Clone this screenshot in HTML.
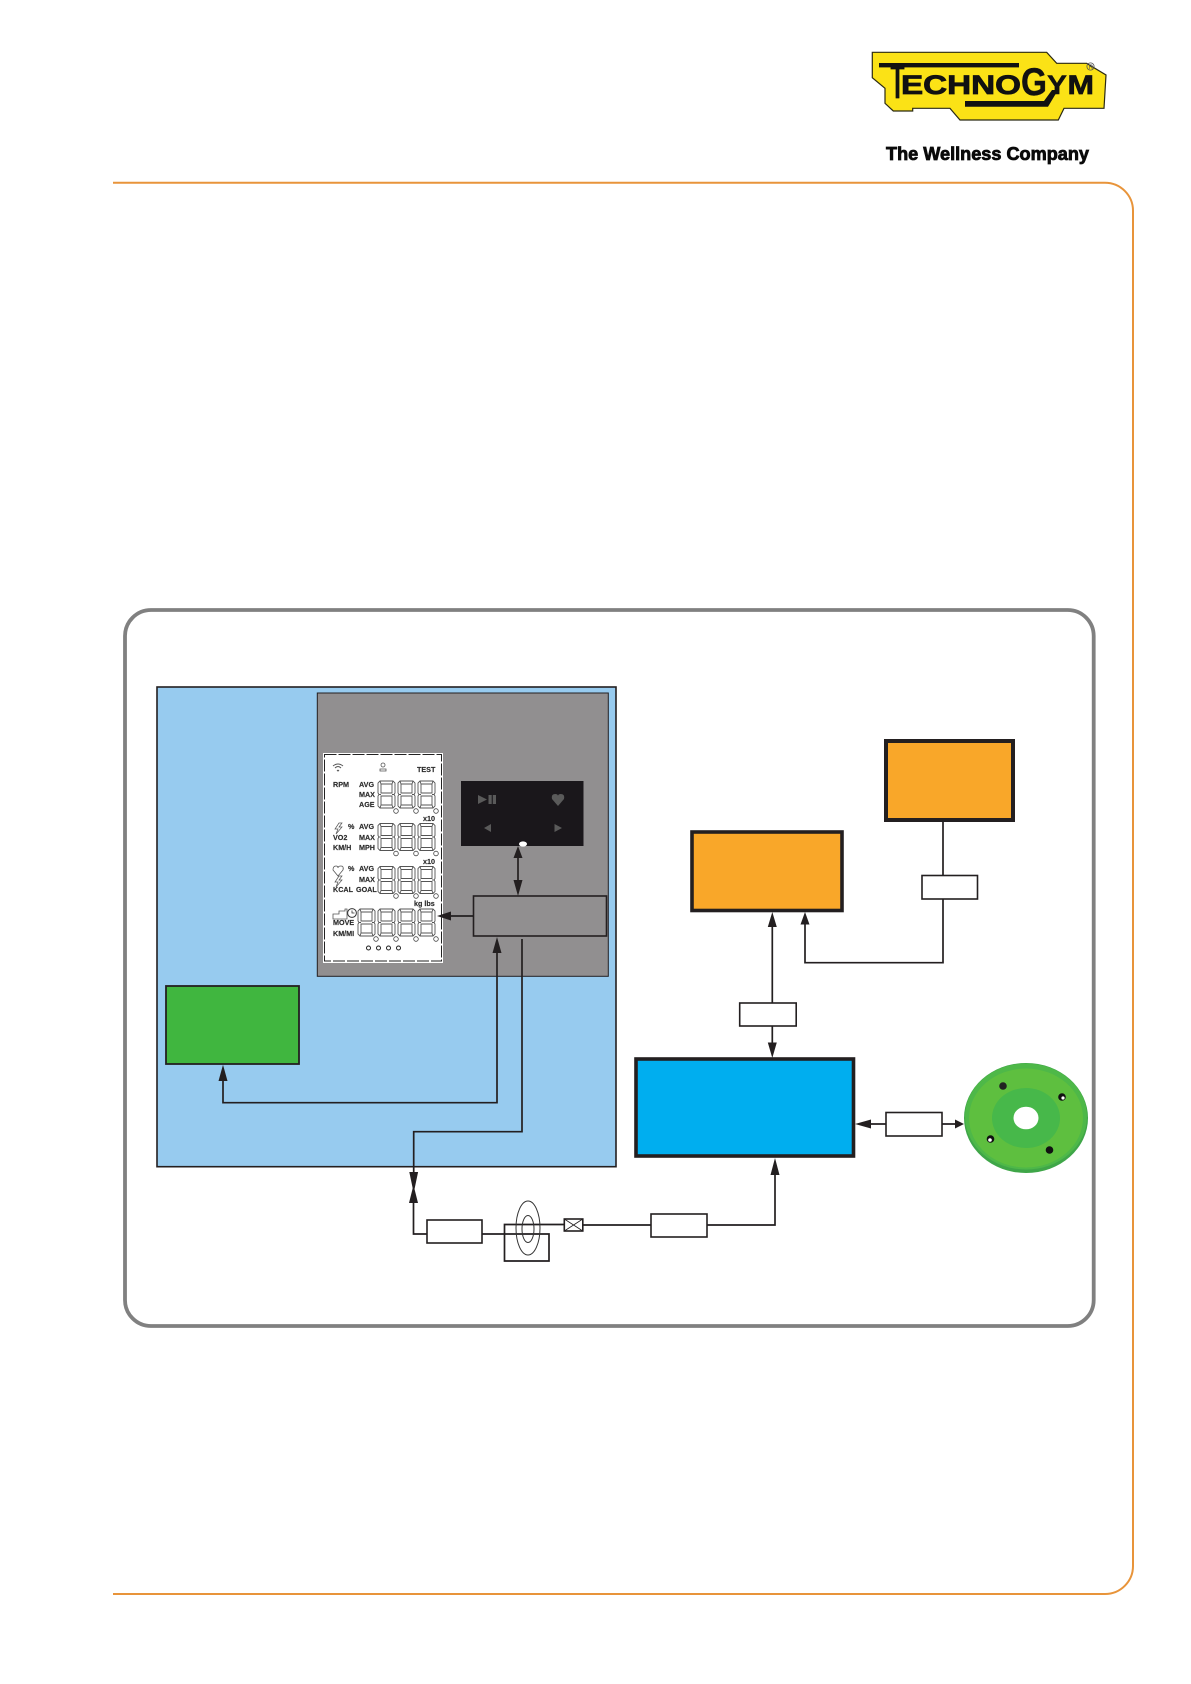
<!DOCTYPE html>
<html lang="en"><head><meta charset="utf-8"><title>Diagram</title>
<style>html,body{margin:0;padding:0;background:#fff;width:1191px;height:1684px;overflow:hidden}svg{display:block;position:absolute;left:0;top:0}
.l{font:bold 7.2px "Liberation Sans",sans-serif;fill:#2b2b2b;stroke:#2b2b2b;stroke-width:.15}
.d{fill:none;stroke:#555;stroke-width:.9}
.c{fill:#fff;stroke:#444;stroke-width:.8}
.k{stroke:#231f20;fill:none;stroke-width:1.7}
.a{fill:#231f20;stroke:none}
</style></head><body>
<svg width="1191" height="1684" viewBox="0 0 1191 1684" xmlns="http://www.w3.org/2000/svg">
<!-- logo -->
<polygon points="872.3,52.3 1046.7,52.3 1056.7,63.3 1086.7,63.3 1106,75 1104,108.3 1064,108.3 1058.3,120 960,120 950,108.3 912.7,108.3 912.7,111 893.3,111 885,103.3 885,88.3 872.3,77.7" fill="#fbe216" stroke="#2b2a14" stroke-width="1.2"/>
<rect x="879" y="63" width="140" height="4.4" fill="#111"/>
<text x="890.5" y="98" font-family="Liberation Sans" font-weight="bold" font-size="50" textLength="14" lengthAdjust="spacingAndGlyphs" fill="#111" stroke="#111" stroke-width=".8">T</text>
<text x="901" y="94" font-family="Liberation Sans" font-weight="bold" font-size="27" textLength="120" lengthAdjust="spacingAndGlyphs" fill="#111" stroke="#111" stroke-width=".8">ECHNO</text>
<text x="1021" y="95" font-family="Liberation Sans" font-weight="bold" font-size="39" textLength="26" lengthAdjust="spacingAndGlyphs" fill="#111" stroke="#111" stroke-width=".4">G</text>
<text x="1047" y="94" font-family="Liberation Sans" font-weight="bold" font-size="27" textLength="20" lengthAdjust="spacingAndGlyphs" fill="#111" stroke="#111" stroke-width=".4">Y</text>
<text x="1067.5" y="94" font-family="Liberation Sans" font-weight="bold" font-size="27" textLength="26.5" lengthAdjust="spacingAndGlyphs" fill="#111" stroke="#111" stroke-width=".7">M</text>
<polygon points="965,101 1044,101 1052,90 1058,90 1048,106.7 965,106.7" fill="#111"/>
<circle cx="1090.5" cy="66.5" r="3.6" fill="none" stroke="#555" stroke-width=".8"/>
<text x="1088.6" y="68.8" font-family="Liberation Sans" font-size="6" fill="#555">R</text>
<text x="886" y="160" font-family="Liberation Sans" font-weight="bold" font-size="18.5" textLength="203" lengthAdjust="spacingAndGlyphs" fill="#0a0a0a" stroke="#0a0a0a" stroke-width=".8">The Wellness Company</text>

<!-- orange page border -->
<path d="M113 182.7H1105A28 28 0 0 1 1133 210.7V1566A28 28 0 0 1 1105 1594H113" fill="none" stroke="#e8943a" stroke-width="2"/>
<!-- gray frame -->
<rect x="125" y="610" width="968.7" height="716" rx="26" fill="#fff" stroke="#808080" stroke-width="3.8"/>

<!-- light blue panel -->
<rect x="157" y="687" width="459" height="479.7" fill="#97cbef" stroke="#231f20" stroke-width="1.6"/>
<!-- gray panel -->
<rect x="317.3" y="693" width="291" height="283.3" fill="#918f90" stroke="#231f20" stroke-width="1"/>
<!-- LCD -->
<rect x="323" y="753" width="120" height="210" fill="#fff"/>
<rect x="324.5" y="754.5" width="117" height="206.5" fill="none" stroke="#222" stroke-width="1" stroke-dasharray="12 2"/>

<path class="d" transform="translate(378 781)" d="M2 0H15L17 2V12L16 13.5L17 15V25L15 27H2L0 25V15L1 13.5L0 12V2ZM3 3H14V12H3ZM3 15H14V24H3ZM2 0L3 3M15 0L14 3M1 13.5H3M16 13.5H14M2 27L3 24M15 27L14 24"/>
<path class="d" transform="translate(398 781)" d="M2 0H15L17 2V12L16 13.5L17 15V25L15 27H2L0 25V15L1 13.5L0 12V2ZM3 3H14V12H3ZM3 15H14V24H3ZM2 0L3 3M15 0L14 3M1 13.5H3M16 13.5H14M2 27L3 24M15 27L14 24"/>
<path class="d" transform="translate(418 781)" d="M2 0H15L17 2V12L16 13.5L17 15V25L15 27H2L0 25V15L1 13.5L0 12V2ZM3 3H14V12H3ZM3 15H14V24H3ZM2 0L3 3M15 0L14 3M1 13.5H3M16 13.5H14M2 27L3 24M15 27L14 24"/>
<path class="d" transform="translate(378 823.5)" d="M2 0H15L17 2V12L16 13.5L17 15V25L15 27H2L0 25V15L1 13.5L0 12V2ZM3 3H14V12H3ZM3 15H14V24H3ZM2 0L3 3M15 0L14 3M1 13.5H3M16 13.5H14M2 27L3 24M15 27L14 24"/>
<path class="d" transform="translate(398 823.5)" d="M2 0H15L17 2V12L16 13.5L17 15V25L15 27H2L0 25V15L1 13.5L0 12V2ZM3 3H14V12H3ZM3 15H14V24H3ZM2 0L3 3M15 0L14 3M1 13.5H3M16 13.5H14M2 27L3 24M15 27L14 24"/>
<path class="d" transform="translate(418 823.5)" d="M2 0H15L17 2V12L16 13.5L17 15V25L15 27H2L0 25V15L1 13.5L0 12V2ZM3 3H14V12H3ZM3 15H14V24H3ZM2 0L3 3M15 0L14 3M1 13.5H3M16 13.5H14M2 27L3 24M15 27L14 24"/>
<path class="d" transform="translate(378 866.5)" d="M2 0H15L17 2V12L16 13.5L17 15V25L15 27H2L0 25V15L1 13.5L0 12V2ZM3 3H14V12H3ZM3 15H14V24H3ZM2 0L3 3M15 0L14 3M1 13.5H3M16 13.5H14M2 27L3 24M15 27L14 24"/>
<path class="d" transform="translate(398 866.5)" d="M2 0H15L17 2V12L16 13.5L17 15V25L15 27H2L0 25V15L1 13.5L0 12V2ZM3 3H14V12H3ZM3 15H14V24H3ZM2 0L3 3M15 0L14 3M1 13.5H3M16 13.5H14M2 27L3 24M15 27L14 24"/>
<path class="d" transform="translate(418 866.5)" d="M2 0H15L17 2V12L16 13.5L17 15V25L15 27H2L0 25V15L1 13.5L0 12V2ZM3 3H14V12H3ZM3 15H14V24H3ZM2 0L3 3M15 0L14 3M1 13.5H3M16 13.5H14M2 27L3 24M15 27L14 24"/>
<path class="d" transform="translate(358 909)" d="M2 0H15L17 2V12L16 13.5L17 15V25L15 27H2L0 25V15L1 13.5L0 12V2ZM3 3H14V12H3ZM3 15H14V24H3ZM2 0L3 3M15 0L14 3M1 13.5H3M16 13.5H14M2 27L3 24M15 27L14 24"/>
<path class="d" transform="translate(378 909)" d="M2 0H15L17 2V12L16 13.5L17 15V25L15 27H2L0 25V15L1 13.5L0 12V2ZM3 3H14V12H3ZM3 15H14V24H3ZM2 0L3 3M15 0L14 3M1 13.5H3M16 13.5H14M2 27L3 24M15 27L14 24"/>
<path class="d" transform="translate(398 909)" d="M2 0H15L17 2V12L16 13.5L17 15V25L15 27H2L0 25V15L1 13.5L0 12V2ZM3 3H14V12H3ZM3 15H14V24H3ZM2 0L3 3M15 0L14 3M1 13.5H3M16 13.5H14M2 27L3 24M15 27L14 24"/>
<path class="d" transform="translate(418 909)" d="M2 0H15L17 2V12L16 13.5L17 15V25L15 27H2L0 25V15L1 13.5L0 12V2ZM3 3H14V12H3ZM3 15H14V24H3ZM2 0L3 3M15 0L14 3M1 13.5H3M16 13.5H14M2 27L3 24M15 27L14 24"/>

<g class="c">
<circle cx="396" cy="811" r="2.3"/><circle cx="416" cy="811" r="2.3"/><circle cx="436" cy="811" r="2.3"/>
<circle cx="396" cy="853.5" r="2.3"/><circle cx="416" cy="853.5" r="2.3"/><circle cx="436" cy="853.5" r="2.3"/>
<circle cx="396" cy="896" r="2.3"/><circle cx="416" cy="896" r="2.3"/><circle cx="436" cy="896" r="2.3"/>
<circle cx="376" cy="939" r="2.3"/><circle cx="396" cy="939" r="2.3"/><circle cx="416" cy="939" r="2.3"/><circle cx="436" cy="939" r="2.3"/>
</g>
<g fill="#fff" stroke="#222" stroke-width="1">
<circle cx="368.5" cy="948" r="2"/><circle cx="378.5" cy="948" r="2"/><circle cx="388.5" cy="948" r="2"/><circle cx="398.5" cy="948" r="2"/>
</g>

<text class="l" x="333" y="787">RPM</text>
<text class="l" x="359" y="787">AVG</text>
<text class="l" x="359" y="797">MAX</text>
<text class="l" x="359" y="807">AGE</text>
<text class="l" x="417" y="772">TEST</text>
<text class="l" x="423" y="821">x10</text>
<text class="l" x="348" y="829">%</text>
<text class="l" x="359" y="829">AVG</text>
<text class="l" x="333" y="840">VO2</text>
<text class="l" x="359" y="840">MAX</text>
<text class="l" x="333" y="850">KM/H</text>
<text class="l" x="359" y="850">MPH</text>
<text class="l" x="423" y="864">x10</text>
<text class="l" x="348" y="871">%</text>
<text class="l" x="359" y="871">AVG</text>
<text class="l" x="359" y="882">MAX</text>
<text class="l" x="333" y="892">KCAL</text>
<text class="l" x="356" y="892">GOAL</text>
<text class="l" x="414" y="906">kg lbs</text>
<text class="l" x="333" y="925">MOVE</text>
<text class="l" x="333" y="936">KM/MI</text>
<!-- LCD icons -->
<path d="M333 766Q338 762 343 766M335 768Q338 765 341 768M337 770L338 771L339 770" fill="none" stroke="#555" stroke-width="1"/>
<circle cx="383" cy="765" r="2" fill="none" stroke="#555" stroke-width=".8"/>
<path d="M380 771V769H386V771Z" fill="none" stroke="#555" stroke-width=".8"/>
<path d="M339 823L335 829H338L336 834L342 827H339L342 823Z" fill="none" stroke="#555" stroke-width=".7"/>
<path d="M338 876L333 870Q333 866 336 866Q338 866 338 868Q338 866 341 866Q344 866 343 870Z" fill="none" stroke="#555" stroke-width=".8"/>
<path d="M339 876L335 882H338L336 887L342 880H339L342 876Z" fill="none" stroke="#555" stroke-width=".7"/>
<path d="M333 919V914H339V911H345V909H347V919Z" fill="none" stroke="#555" stroke-width=".8"/>
<circle cx="352" cy="913" r="4.4" fill="#fff" stroke="#333" stroke-width="1"/>
<path d="M352 910.5V913H354.5" fill="none" stroke="#333" stroke-width=".8"/>

<!-- black panel -->
<rect x="461" y="781" width="122.5" height="65" fill="#1a171b"/>
<path d="M478 795L487 799.5L478 804Z" fill="#5a5a5a"/>
<rect x="488.5" y="795" width="3.2" height="9" fill="#5a5a5a"/><rect x="492.8" y="795" width="3.2" height="9" fill="#5a5a5a"/>
<path d="M558 806L552 799Q551 794 555 794Q558 794 558 796Q558 794 561 794Q565 794 564 799Z" fill="#5a5a5a"/>
<path d="M491 824V832L484 828Z" fill="#5a5a5a"/>
<path d="M554.5 824V832L562 828Z" fill="#5a5a5a"/>
<ellipse cx="523" cy="844" rx="4" ry="2.6" fill="#fff"/>

<!-- gray box -->
<rect x="473.5" y="896" width="133" height="40" fill="#918f90" stroke="#231f20" stroke-width="1.6"/>

<!-- green box -->
<rect x="166" y="986" width="133" height="78" fill="#40b63f" stroke="#231f20" stroke-width="1.8"/>
<!-- orange boxes -->
<rect x="886" y="741" width="127" height="79" fill="#f9a729" stroke="#231f20" stroke-width="4"/>
<rect x="692" y="832" width="150" height="78.5" fill="#f9a729" stroke="#231f20" stroke-width="3.6"/>
<!-- blue box -->
<rect x="636" y="1059" width="217.5" height="97" fill="#00aeef" stroke="#231f20" stroke-width="3.6"/>

<!-- connectors -->
<path class="k" d="M518 854V882"/>
<path class="a" d="M518 846L522.5 858H513.5ZM518 896L522.5 880H513.5Z"/>
<path class="k" d="M473 916H445"/>
<path class="a" d="M437 916L451 911.5V920.5Z"/>
<path class="k" d="M497 950V1102.7H223V1078"/>
<path class="a" d="M497 937L501.5 953H492.5ZM223 1064.7L227.5 1081H218.5Z"/>
<path class="k" d="M522 939V1131.7H413.7V1175"/>
<path class="a" d="M413.7 1193L409.3 1172H418.1Z"/>
<path class="a" d="M413.5 1185L418 1203H409Z"/>
<path class="k" d="M413.5 1200V1234H427"/>
<rect x="427" y="1220" width="55" height="23" fill="#fff" stroke="#231f20" stroke-width="1.6"/>
<path class="k" d="M482 1234H549V1261H504.5V1224.5H564"/>
<ellipse cx="528" cy="1228" rx="12" ry="27" fill="none" stroke="#333" stroke-width="1"/>
<ellipse cx="528" cy="1229" rx="6" ry="13.5" fill="none" stroke="#333" stroke-width="1"/>
<rect x="564.3" y="1219" width="18.5" height="12" fill="#fff" stroke="#231f20" stroke-width="1.6"/>
<path d="M564.3 1219L582.8 1231M582.8 1219L564.3 1231" stroke="#231f20" stroke-width=".8"/>
<path class="k" d="M583 1225H651"/>
<rect x="651" y="1214" width="56" height="23" fill="#fff" stroke="#231f20" stroke-width="1.6"/>
<path class="k" d="M707 1225H775V1172"/>
<path class="a" d="M775 1158L779.5 1175H770.5Z"/>
<path class="k" d="M772.3 925V1003M772.3 1026V1045"/>
<path class="a" d="M772.3 912L776.8 927H767.8ZM772.3 1058L776.8 1042.5H767.8Z"/>
<rect x="739.7" y="1003" width="56.5" height="23" fill="#fff" stroke="#231f20" stroke-width="1.6"/>
<path class="k" d="M943 822V875M943 899V962.7H805V922"/>
<path class="a" d="M805 912L809.5 924.5H800.5Z"/>
<rect x="922" y="875.5" width="55.5" height="23.5" fill="#fff" stroke="#231f20" stroke-width="1.6"/>
<path class="k" d="M868 1124H886M942 1124H956"/>
<path class="a" d="M855 1124L871 1119.5V1128.5ZM964 1124L955 1119.5V1128.5Z"/>
<rect x="886" y="1112.5" width="56" height="23.5" fill="#fff" stroke="#231f20" stroke-width="1.6"/>

<!-- disc -->
<ellipse cx="1026" cy="1118" rx="62" ry="55" fill="#3fa648"/>
<ellipse cx="1026" cy="1116.5" rx="61" ry="53" fill="#4eb848"/>
<ellipse cx="1026" cy="1118" rx="57" ry="49.5" fill="#5ebf3f"/>
<ellipse cx="1026" cy="1118" rx="34" ry="30" fill="#47b84a"/>
<ellipse cx="1026" cy="1118" rx="12.5" ry="11.3" fill="#fff"/>
<circle cx="1003" cy="1086" r="3.8" fill="#222"/>
<circle cx="1062" cy="1097" r="3.8" fill="#111"/>
<circle cx="990.5" cy="1139" r="3.8" fill="#111"/>
<circle cx="1049.5" cy="1150" r="3.8" fill="#111"/>
<circle cx="1063" cy="1098" r="1.6" fill="#fff"/>
<circle cx="990" cy="1140" r="1.8" fill="#fff"/>
</svg>
</body></html>
